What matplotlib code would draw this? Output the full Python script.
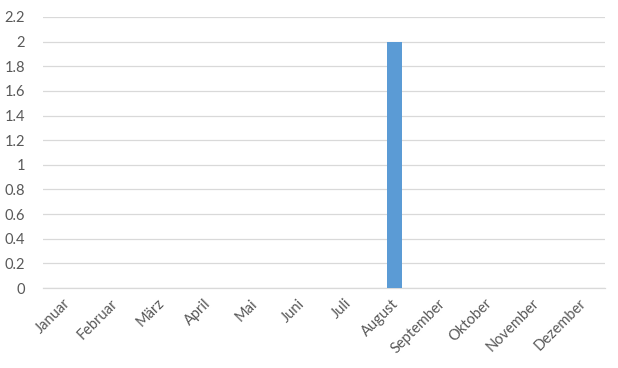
import matplotlib
matplotlib.use("Agg")
import matplotlib.pyplot as plt
import matplotlib.transforms as mtransforms
import numpy as np

months = ["Januar", "Februar", "März", "April", "Mai", "Juni", "Juli",
          "August", "September", "Oktober", "November", "Dezember"]
values = [0, 0, 0, 0, 0, 0, 0, 2, 0, 0, 0, 0]
yticks = [0, 0.2, 0.4, 0.6, 0.8, 1, 1.2, 1.4, 1.6, 1.8, 2, 2.2]
ytick_labels = ["0", "0.2", "0.4", "0.6", "0.8", "1", "1.2", "1.4", "1.6", "1.8", "2", "2.2"]

plt.rcParams['font.family'] = ['Lato', 'DejaVu Sans']

fig = plt.figure(figsize=(6.18, 3.68), dpi=100)
ax = fig.add_axes([43/618, 1 - 288/368, (605-43)/618, (288-17)/368])

x = np.arange(len(months))
ax.bar(x, values, width=0.33, color="#5B9BD5", zorder=3)

ax.set_xlim(-0.5, len(months) - 0.5)
ax.set_ylim(0, 2.2)
ax.set_yticks(yticks)
ax.set_yticklabels(ytick_labels)
ax.set_xticks(x)
ax.set_xticklabels(months, rotation=45, ha="right", rotation_mode="anchor")

ax.grid(axis="y", color="#D9D9D9", linewidth=0.9, zorder=0)
for s in ["top", "right", "left"]:
    ax.spines[s].set_visible(False)
ax.spines["bottom"].set_color("#D9D9D9")
ax.spines["bottom"].set_linewidth(0.9)
ax.tick_params(axis="both", length=0, colors="#595959", labelsize=10.5)
ax.tick_params(axis="y", pad=13)
ax.tick_params(axis="x", pad=6)
offset = mtransforms.ScaledTranslation(-3/100, 0, fig.dpi_scale_trans)
for lbl in ax.get_xticklabels():
    lbl.set_transform(lbl.get_transform() + offset)

fig.savefig("out.png", dpi=100, facecolor="white")
